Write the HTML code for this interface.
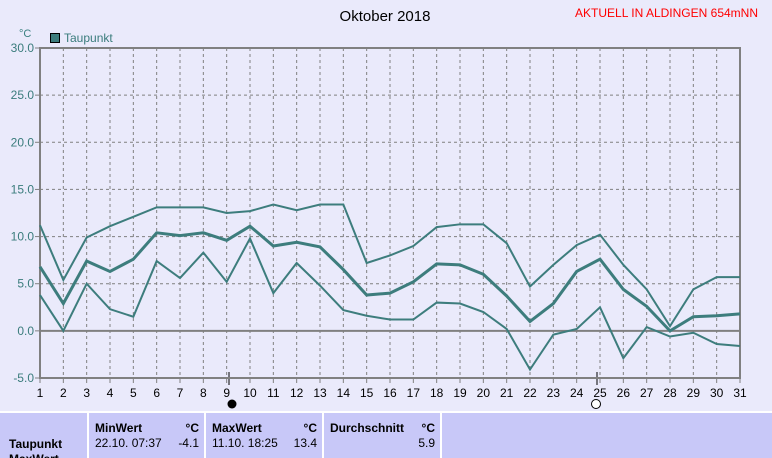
<!DOCTYPE html><html><head><style>
body{margin:0;width:772px;height:458px;overflow:hidden;background:#eaeafb;font-family:"Liberation Sans",sans-serif}
svg{position:absolute;left:0;top:0}
.t{position:absolute;font-size:12px;color:#000}
</style></head><body>
<svg width="772" height="458" id="s" font-family="Liberation Sans" font-size="12">
<text x="385" y="21" text-anchor="middle" font-size="15">Oktober 2018</text>
<text x="758" y="17" text-anchor="end" fill="#f00" font-size="12">AKTUELL IN ALDINGEN 654mNN</text>
<text x="19" y="37" fill="#3a8080" font-size="11">°C</text>
<rect x="50.5" y="33.5" width="9" height="9" fill="#3d7d7d" stroke="#000"/>
<text x="64" y="42" fill="#3a7c7c">Taupunkt</text>
<g id="g"></g>
<rect x="0" y="411" width="772" height="47" fill="#c8c8f8"/>
<g stroke="#fff" stroke-width="2"><line x1="0" y1="412" x2="772" y2="412"/><line x1="88" y1="412" x2="88" y2="458"/><line x1="205" y1="412" x2="205" y2="458"/><line x1="323" y1="412" x2="323" y2="458"/><line x1="441" y1="412" x2="441" y2="458"/></g>
<g font-weight="bold" font-size="12"><text x="95" y="432">MinWert</text><text x="199" y="432" text-anchor="end">°C</text><text x="212" y="432">MaxWert</text><text x="317" y="432" text-anchor="end">°C</text><text x="330" y="432">Durchschnitt</text><text x="435" y="432" text-anchor="end">°C</text><text x="9" y="448">Taupunkt</text><text x="9" y="463">MaxWert</text></g>
<text x="95" y="447">22.10.  07:37</text><text x="199" y="447" text-anchor="end">-4.1</text>
<text x="212" y="447">11.10.  18:25</text><text x="317" y="447" text-anchor="end">13.4</text>
<text x="435" y="447" text-anchor="end">5.9</text>
<circle cx="232" cy="404" r="4.5" fill="#000"/>
<circle cx="596" cy="404" r="4.5" fill="#fff" stroke="#000"/>
</svg>
<script>
var g=document.getElementById('g'),h='';
function X(d){return 40+(d-1)*700/30}function Y(v){return 48+(30-v)*330/35}
for(var v=-5;v<=30;v+=5){var y=Y(v);if(v>-5&&v<30&&v!=0)h+='<line x1="40" x2="740" y1="'+y+'" y2="'+y+'" stroke="#808080" stroke-dasharray="3,3"/>';
h+='<line x1="35" x2="40" y1="'+y+'" y2="'+y+'" stroke="#808080"/><text x="34" y="'+(y+4)+'" text-anchor="end" fill="#3a7c7c">'+v.toFixed(1)+'</text>';}
for(var d=1;d<=31;d++){var x=X(d);if(d>1&&d<31)h+='<line x1="'+x+'" x2="'+x+'" y1="48" y2="378" stroke="#808080" stroke-dasharray="3,3"/>';
h+='<line x1="'+x+'" x2="'+x+'" y1="378" y2="383" stroke="#808080"/><text x="'+x+'" y="397" text-anchor="middle">'+d+'</text>';}
h+='<line x1="40" x2="740" y1="'+Y(0)+'" y2="'+Y(0)+'" stroke="#808080" stroke-width="2"/>';
h+='<line x1="229" x2="229" y1="372" y2="385" stroke="#000"/><line x1="597" x2="597" y1="372" y2="385" stroke="#000"/>';
h+='<rect x="40" y="48" width="700" height="330" fill="none" stroke="#808080" stroke-width="2"/>';
var S=[[11.2,5.4,9.9,11.1,12.1,13.1,13.1,13.1,12.5,12.7,13.4,12.8,13.4,13.4,7.2,8.0,9.0,11.0,11.3,11.3,9.3,4.7,7.0,9.1,10.2,7.0,4.4,0.5,4.4,5.7,5.7],
[6.8,2.9,7.4,6.3,7.6,10.4,10.1,10.4,9.6,11.1,9.0,9.4,8.9,6.5,3.8,4.0,5.2,7.1,7.0,6.0,3.7,1.0,2.9,6.3,7.6,4.4,2.6,0.0,1.5,1.6,1.8],
[3.8,0.0,5.0,2.3,1.5,7.4,5.6,8.3,5.2,9.8,4.0,7.2,4.8,2.2,1.6,1.2,1.2,3.0,2.9,2.0,0.2,-4.1,-0.4,0.2,2.5,-2.9,0.4,-0.6,-0.2,-1.4,-1.6]];
S.forEach(function(s,i){h+='<polyline fill="none" stroke="#3d7d7d" stroke-width="'+(i==1?3:2)+'" points="'+s.map(function(v,k){return X(k+1)+','+Y(v)}).join(' ')+'"/>';});
g.innerHTML=h;
</script>
</body></html>
